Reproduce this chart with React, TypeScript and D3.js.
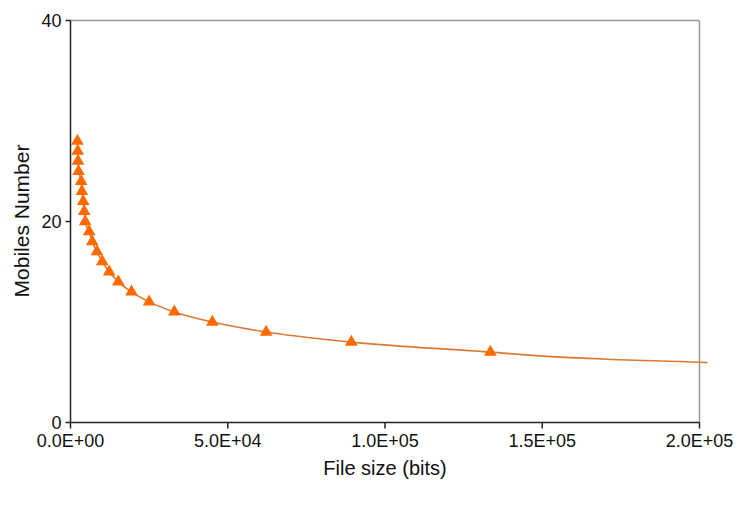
import React from "react";
import * as d3 from "d3";

const fileSizes = [2200, 2300, 2400, 2550, 3400, 3620, 4040, 4360, 4670, 5950, 6900, 8400, 10100, 12300, 15200, 19400, 25000, 33000, 45100, 62200, 89300, 133500];
const mobiles = [28, 27, 26, 25, 24, 23, 22, 21, 20, 19, 18, 17, 16, 15, 14, 13, 12, 11, 10, 9, 8, 7];
const tailSizes = [150000, 175000, 200000, 202500];
const tailMobiles = [6.6, 6.25, 6.0, 5.96];
const xTicks = [0, 50000, 100000, 150000, 200000];
const xTickLabels = ["0.0E+00", "5.0E+04", "1.0E+05", "1.5E+05", "2.0E+05"];
const yTicks = [0, 20, 40];

export default function App() {
  const W = 744, H = 508;
  const left = 70.5, right = 699.5, top = 20.5, bottom = 422.5;
  const x = d3.scaleLinear().domain([0, 200000]).range([left, right]);
  const y = d3.scaleLinear().domain([0, 40]).range([bottom, top]);
  const pts = fileSizes.map((s, i) => [s, mobiles[i]] as [number, number]);
  const linePts = pts.concat(tailSizes.map((s, i) => [s, tailMobiles[i]] as [number, number]));
  const line = d3.line<[number, number]>().x(d => x(d[0])).y(d => y(d[1])).curve(d3.curveMonotoneX);
  const tri = d3.symbol().type(d3.symbolTriangle).size(70)();
  const font = "'Liberation Sans', Arial, sans-serif";
  return (
    <svg width={W} height={H} style={{ position: "absolute", left: 0, top: 0, background: "#fff" }} fontFamily={font}>
      <rect x={0} y={0} width={W} height={H} fill="#fff" />
      <line x1={left} x2={right} y1={top} y2={top} stroke="#999" strokeWidth={1.5} />
      <line x1={right} x2={right} y1={top} y2={bottom} stroke="#999" strokeWidth={1.5} />
      <path d={line(linePts) || ""} fill="none" stroke="#DC7A34" strokeWidth={1.6} />
      {pts.map((d, i) => (
        <path key={i} d={tri || ""} transform={`translate(${x(d[0])},${y(d[1])})`} fill="#FF6A00" />
      ))}
      <line x1={left} x2={left} y1={top} y2={bottom} stroke="#222" strokeWidth={1.5} />
      <line x1={left} x2={right} y1={bottom} y2={bottom} stroke="#222" strokeWidth={1.5} />
      {yTicks.map(t => (
        <g key={t}>
          <line x1={left - 5} x2={left} y1={y(t)} y2={y(t)} stroke="#222" strokeWidth={1.5} />
          <text x={left - 9} y={y(t)} dy="0.35em" textAnchor="end" fontSize={18} fill="#111">{t}</text>
        </g>
      ))}
      {xTicks.map((t, i) => (
        <g key={t}>
          <line x1={x(t)} x2={x(t)} y1={bottom} y2={bottom + 6} stroke="#222" strokeWidth={1.5} />
          <text x={x(t)} y={447} textAnchor="middle" fontSize={18} fill="#111">{xTickLabels[i]}</text>
        </g>
      ))}
      <text x={385} y={475} textAnchor="middle" fontSize={20} fill="#111">File size (bits)</text>
      <text transform="translate(29,221) rotate(-90)" textAnchor="middle" fontSize={21} fill="#111">Mobiles Number</text>
    </svg>
  );
}
